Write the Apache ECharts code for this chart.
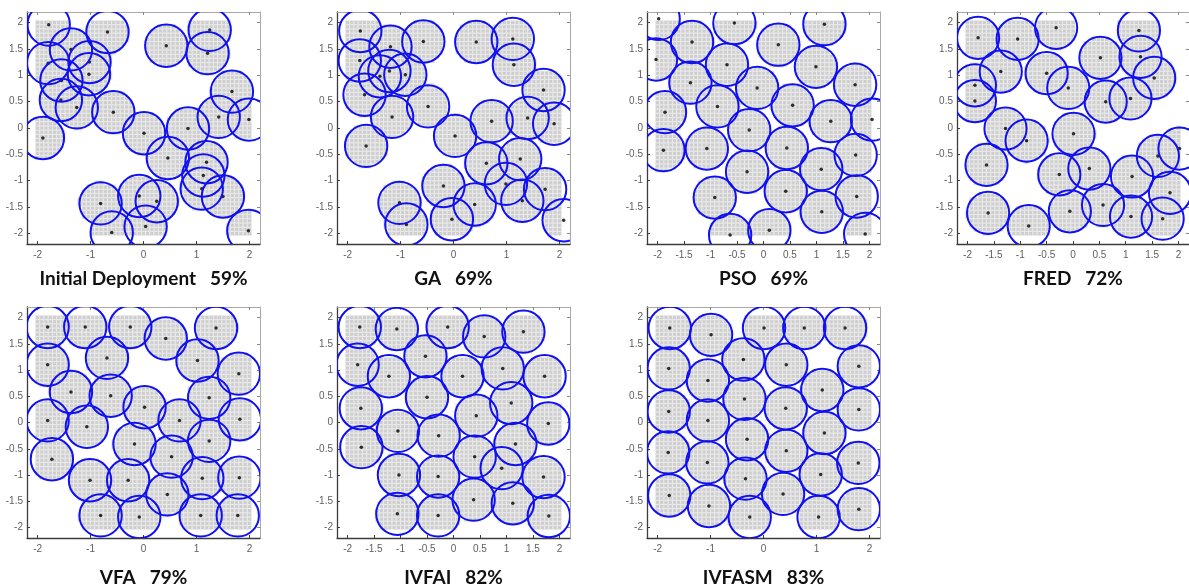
<!DOCTYPE html>
<html><head><meta charset="utf-8">
<script src="https://cdn.jsdelivr.net/npm/echarts@6/dist/echarts.min.js"></script>
<style>html,body{margin:0;padding:0;background:#fff}#c{width:1189px;height:588px}</style>
</head><body><div id="c"></div>
<script>
// ---------------- DATA ----------------
const SENSING_RADIUS = 0.4;
const COVER_STEP = 0.08;           // monitoring-grid step
const AREA_MIN = -2, AREA_MAX = 2;

const sensorsInitial = [[-1.79,1.96],[-0.68,1.82],[-1.37,1.49],[-1.02,1.25],[-1.03,1.02],[-1.80,1.23],[-1.55,0.90],[-1.56,0.53],[-1.26,0.39],[-0.57,0.30],[-1.90,-0.19],[0.43,1.56],[1.25,1.86],[1.21,1.42],[1.67,0.69],[1.42,0.21],[1.99,0.16],[0.84,-0.01],[0.01,-0.10],[0.46,-0.57],[1.19,-0.65],[1.13,-0.90],[1.10,-1.15],[1.50,-1.30],[-0.81,-1.43],[-0.60,-1.98],[-0.08,-1.29],[0.25,-1.39],[0.04,-1.87],[1.98,-1.95]];
const sensorsGA = [[-1.76,1.84],[-1.77,1.28],[-1.19,1.54],[-0.57,1.64],[-1.21,1.08],[-1.39,0.98],[-0.91,1.01],[-1.68,0.63],[-1.16,0.21],[-0.48,0.41],[-1.65,-0.34],[0.03,-0.15],[0.43,1.63],[1.12,1.69],[1.14,1.20],[1.70,0.72],[0.72,0.13],[1.40,0.19],[1.90,0.08],[0.62,-0.67],[1.26,-0.59],[-0.19,-1.10],[0.99,-1.06],[0.40,-1.45],[1.30,-1.38],[1.73,-1.16],[2.08,-1.75],[-0.03,-1.73],[-1.02,-1.42],[-0.89,-1.83]];
const sensorsPSO = [[-1.98,2.07],[-2.03,1.30],[-1.35,1.63],[-0.55,1.99],[-0.69,1.20],[0.28,1.58],[1.15,1.97],[0.99,1.16],[1.73,0.82],[-1.38,0.86],[-0.12,0.76],[-0.87,0.41],[-1.86,0.30],[0.55,0.43],[1.27,0.13],[2.05,0.16],[-0.27,-0.04],[-1.07,-0.39],[-1.89,-0.42],[0.44,-0.38],[1.74,-0.51],[-0.31,-0.83],[1.09,-0.78],[-0.92,-1.32],[0.42,-1.20],[1.76,-1.30],[1.10,-1.59],[-0.63,-2.03],[0.11,-1.94],[1.92,-2.01]];
const sensorsFRED = [[-1.80,1.71],[-1.05,1.69],[-0.32,1.90],[1.25,1.85],[0.52,1.33],[1.28,1.35],[-1.37,1.07],[-0.50,1.04],[-0.09,0.76],[1.54,0.95],[-1.86,0.81],[-1.86,0.51],[0.62,0.50],[1.09,0.56],[-1.28,-0.01],[-0.88,-0.24],[0.01,-0.11],[-1.64,-0.70],[-0.26,-0.88],[0.31,-0.77],[1.12,-0.92],[1.61,-0.53],[2.02,-0.39],[1.84,-1.23],[1.70,-1.72],[1.10,-1.68],[0.57,-1.46],[-0.06,-1.58],[-0.84,-1.86],[-1.61,-1.61]];
const sensorsVFA = [[-1.81,1.82],[-1.10,1.82],[-0.25,1.82],[1.37,1.80],[0.42,1.60],[-0.69,1.23],[1.02,1.18],[-1.81,1.10],[1.80,0.93],[-1.37,0.58],[-0.62,0.51],[1.24,0.47],[0.02,0.29],[-1.81,0.04],[-1.07,-0.08],[0.68,0.04],[1.82,0.06],[-0.17,-0.41],[1.24,-0.35],[-1.73,-0.70],[0.53,-0.65],[-1.01,-1.10],[-0.29,-1.10],[1.11,-1.06],[1.81,-1.05],[0.45,-1.37],[-0.81,-1.77],[-0.08,-1.80],[1.08,-1.77],[1.78,-1.77]];
const sensorsIVFAI = [[-1.77,1.82],[-1.07,1.78],[-0.11,1.82],[0.58,1.64],[1.32,1.73],[-0.53,1.26],[-1.81,1.10],[-1.22,0.88],[0.17,0.88],[0.93,1.03],[1.72,0.88],[-0.50,0.48],[-1.75,0.27],[1.09,0.37],[0.43,0.13],[1.79,-0.02],[-1.05,-0.16],[-0.28,-0.25],[-1.74,-0.47],[1.17,-0.41],[0.40,-0.65],[0.91,-0.87],[-1.03,-1.00],[-0.29,-1.03],[1.70,-1.04],[0.38,-1.47],[1.12,-1.54],[-1.06,-1.74],[-0.29,-1.77],[1.80,-1.78]];
const sensorsIVFASM = [[-1.77,1.80],[-0.99,1.67],[0.01,1.80],[0.77,1.80],[1.54,1.80],[-0.38,1.20],[-1.79,1.03],[0.43,1.10],[1.80,1.07],[-1.05,0.80],[1.11,0.62],[-0.36,0.45],[0.42,0.27],[1.80,0.25],[-1.79,0.21],[-1.05,0.04],[1.15,-0.20],[-0.31,-0.32],[0.43,-0.54],[-1.80,-0.57],[-1.06,-0.76],[1.79,-0.77],[1.08,-0.99],[-0.34,-1.07],[0.37,-1.36],[-1.78,-1.39],[-1.03,-1.59],[-0.26,-1.80],[1.04,-1.80],[1.80,-1.65]];

const panelNames = ['Initial Deployment','GA','PSO','FRED','VFA','IVFAI','IVFASM'];
const coverageRates = ['59%','69%','69%','72%','79%','82%','83%'];
const yTickLabels = [-2,-1.5,-1,-0.5,0,0.5,1,1.5,2];
const xTicksUnit = [-2,-1,0,1,2];
const xTicksHalf = [-2,-1.5,-1,-0.5,0,0.5,1,1.5,2];

const panelSensors = [sensorsInitial,sensorsGA,sensorsPSO,sensorsFRED,sensorsVFA,sensorsIVFAI,sensorsIVFASM];
const panelXTicks = [xTicksUnit,xTicksUnit,xTicksHalf,xTicksHalf,xTicksUnit,xTicksHalf,xTicksUnit];

// ---------------- LAYOUT ----------------
const gridBoxes = [
  {left:27, top:12, width:233, height:232},
  {left:337,top:12, width:233, height:232},
  {left:647,top:12, width:233, height:232},
  {left:957,top:12, width:232, height:232},
  {left:27, top:307,width:233, height:231},
  {left:337,top:307,width:233, height:231},
  {left:647,top:307,width:233, height:231}
];
const titleY = [279,279,279,279,578,578,578];

// coverage cells computed from the sensors and radius
function coveredCells(sensors){
  const out = [];
  const n = Math.round((AREA_MAX-AREA_MIN)/COVER_STEP);
  for(let i=0;i<=n;i++){
    for(let j=0;j<=n;j++){
      const x = AREA_MIN + i*COVER_STEP, y = AREA_MIN + j*COVER_STEP;
      for(const s of sensors){
        const dx=s[0]-x, dy=s[1]-y;
        if(dx*dx+dy*dy <= SENSING_RADIUS*SENSING_RADIUS){ out.push([x,y]); break; }
      }
    }
  }
  return out;
}

function renderCell(params, api){
  const x=api.value(0), y=api.value(1), h=COVER_STEP/2;
  const p0=api.coord([x-h,y+h]), p1=api.coord([x+h,y-h]);
  return {type:'rect', shape:{x:p0[0],y:p0[1],width:p1[0]-p0[0],height:p1[1]-p0[1]},
    style:{fill:'#cfcfcf', stroke:'#ececec', lineWidth:0.8}};
}
function renderCircle(params, api){
  const c=api.coord([api.value(0),api.value(1)]);
  const r=api.size([SENSING_RADIUS,0])[0];
  return {type:'circle', shape:{cx:c[0],cy:c[1],r:r},
    style:{fill:'transparent', stroke:'#1010f0', lineWidth:2}};
}

const grid=[], xAxis=[], yAxis=[], series=[], graphic=[];
const labelStyle = {color:'#606060', fontSize:10, fontFamily:'Liberation Sans, Arial, sans-serif'};
panelSensors.forEach((sensors,i)=>{
  const g = gridBoxes[i];
  grid.push(Object.assign({containLabel:false, show:false}, g));
  const xt = panelXTicks[i];
  xAxis.push({gridIndex:i,type:'value',min:-2.2,max:2.2,position:'bottom',
    axisLine:{show:true,onZero:false,lineStyle:{color:'#3c3c3c',width:1.3}},
    axisTick:{show:true,inside:true,length:3,customValues:xt,lineStyle:{color:'#3c3c3c'}},
    axisLabel:Object.assign({customValues:xt,margin:6,formatter:v=>String(v)},labelStyle),
    splitLine:{show:false}});
  xAxis.push({gridIndex:i,type:'value',min:-2.2,max:2.2,position:'top',
    axisLine:{show:true,onZero:false,lineStyle:{color:'#a8a8a8',width:1}},
    axisTick:{show:true,inside:true,length:3,customValues:xt,lineStyle:{color:'#888'}},
    axisLabel:{show:false},splitLine:{show:false}});
  yAxis.push({gridIndex:i,type:'value',min:-2.2,max:2.2,position:'left',
    axisLine:{show:true,onZero:false,lineStyle:{color:'#3c3c3c',width:1.3}},
    axisTick:{show:true,inside:true,length:3,customValues:yTickLabels,lineStyle:{color:'#3c3c3c'}},
    axisLabel:Object.assign({customValues:yTickLabels,margin:4,formatter:v=>String(v)},labelStyle),
    splitLine:{show:false}});
  yAxis.push({gridIndex:i,type:'value',min:-2.2,max:2.2,position:'right',
    axisLine:{show:true,onZero:false,lineStyle:{color:'#a8a8a8',width:1}},
    axisTick:{show:true,inside:true,length:3,customValues:yTickLabels,lineStyle:{color:'#888'}},
    axisLabel:{show:false},splitLine:{show:false}});
  series.push({type:'custom',xAxisIndex:2*i,yAxisIndex:2*i,renderItem:renderCell,
    data:coveredCells(sensors),clip:true,silent:true,z:1});
  series.push({type:'scatter',xAxisIndex:2*i,yAxisIndex:2*i,data:sensors,
    symbolSize:3.5,itemStyle:{color:'#000'},silent:true,z:2,clip:true});
  series.push({type:'custom',xAxisIndex:2*i,yAxisIndex:2*i,renderItem:renderCircle,
    data:sensors,clip:true,silent:true,z:3});
  graphic.push({type:'text',x:g.left+g.width/2,y:titleY[i],z:10,
    style:{text:panelNames[i]+'   '+coverageRates[i],fill:'#111',
      font:'bold 19px Lato, "Open Sans", sans-serif',
      align:'center',verticalAlign:'middle',textAlign:'center',textVerticalAlign:'middle'}});
});

const chart = echarts.init(document.getElementById('c'),null,{renderer:'canvas'});
chart.setOption({animation:false,backgroundColor:'#fff',grid,xAxis,yAxis,series,graphic});
</script>
</body></html>
